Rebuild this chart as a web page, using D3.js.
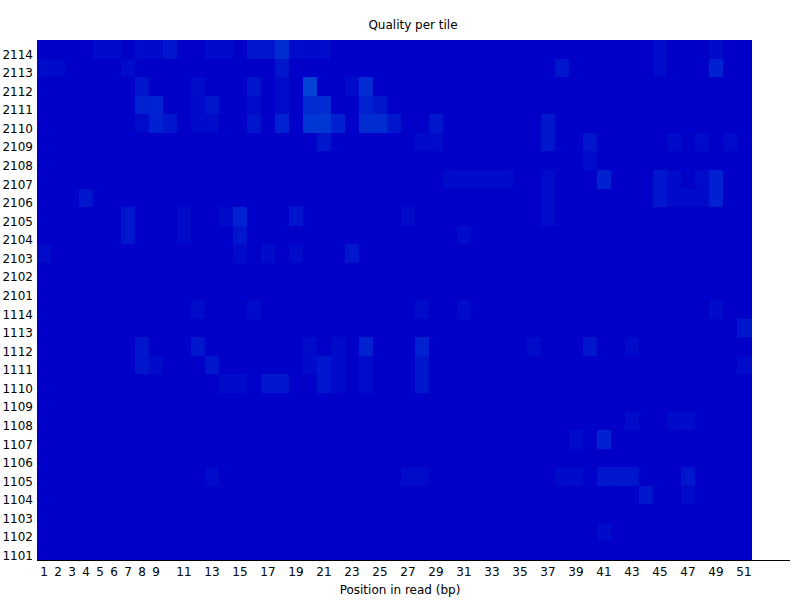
<!DOCTYPE html>
<html>
<head>
<meta charset="utf-8">
<script src="https://cdn.jsdelivr.net/npm/d3@7"></script>
<style>
  body { margin: 0; background: #fff; }
  svg { display: block; font-family: "DejaVu Sans", sans-serif; }
</style>
</head>
<body>
<svg id="chart" width="800" height="600"></svg>
<script>
// tiles, top to bottom
const tiles = ["2114","2113","2112","2111","2110","2109","2108","2107","2106","2105","2104","2103","2102","2101",
               "1114","1113","1112","1111","1110","1109","1108","1107","1106","1105","1104","1103","1102","1101"];
const positions = d3.range(1, 52);
const tickLabels = [1,2,3,4,5,6,7,8,9,11,13,15,17,19,21,23,25,27,29,31,33,35,37,39,41,43,45,47,49,51];

// cells that differ from the mean: [tile, position, level]
const deviations = [
  ["2114",5,1],["2114",6,1],["2114",8,1],["2114",9,1],["2114",10,2],["2114",13,1],["2114",14,1],["2114",16,2],["2114",17,2],["2114",18,4],["2114",19,1],["2114",20,1],["2114",21,1],["2114",45,1],["2114",49,1],
  ["2113",1,1],["2113",2,1],["2113",7,1],["2113",18,2],["2113",38,2],["2113",45,1],["2113",49,3],
  ["2112",8,2],["2112",12,1],["2112",16,2],["2112",18,1],["2112",20,6],["2112",23,1],["2112",24,4],
  ["2111",8,3],["2111",9,3],["2111",12,1],["2111",13,2],["2111",16,1],["2111",18,1],["2111",20,4],["2111",21,4],["2111",24,3],["2111",25,2],
  ["2110",8,1],["2110",9,3],["2110",10,2],["2110",12,1],["2110",13,1],["2110",16,2],["2110",18,3],["2110",20,5],["2110",21,5],["2110",22,3],["2110",24,4],["2110",25,4],["2110",26,2],["2110",29,2],["2110",37,2],
  ["2109",21,2],["2109",28,1],["2109",29,1],["2109",37,2],["2109",40,2],["2109",46,1],["2109",48,1],["2109",50,1],
  ["2108",40,1],
  ["2107",30,1],["2107",31,1],["2107",32,1],["2107",33,1],["2107",34,1],["2107",37,1],["2107",41,3],["2107",45,2],["2107",46,1],["2107",48,1],["2107",49,3],
  ["2106",4,2],["2106",37,1],["2106",45,2],["2106",46,1],["2106",47,1],["2106",48,1],["2106",49,3],
  ["2105",7,2],["2105",11,1],["2105",14,1],["2105",15,3],["2105",19,2],["2105",27,1],["2105",37,1],
  ["2104",7,2],["2104",11,1],["2104",15,2],["2104",31,1],
  ["2103",1,1],["2103",15,1],["2103",17,1],["2103",19,1],["2103",23,2],
  ["1114",12,1],["1114",16,1],["1114",28,1],["1114",31,1],["1114",49,1],
  ["1113",51,2],
  ["1112",8,2],["1112",12,2],["1112",20,1],["1112",22,1],["1112",24,3],["1112",28,3],["1112",36,1],["1112",40,2],["1112",43,1],
  ["1111",8,2],["1111",9,1],["1111",13,2],["1111",20,1],["1111",21,2],["1111",22,1],["1111",24,1],["1111",28,2],["1111",51,1],
  ["1110",14,1],["1110",15,1],["1110",17,2],["1110",18,2],["1110",21,2],["1110",22,1],["1110",24,1],["1110",28,2],
  ["1108",43,1],["1108",46,1],["1108",47,1],
  ["1107",39,1],["1107",41,3],
  ["1105",13,1],["1105",27,1],["1105",28,1],["1105",38,1],["1105",39,1],["1105",41,2],["1105",42,2],["1105",43,2],["1105",47,2],
  ["1104",44,2],["1104",47,1],
  ["1102",41,1]
];

const svg = d3.select("#chart");
const plotLeft = 37, plotRight = 751, plotTop = 40, plotBottom = 560;

const x = d3.scaleBand().domain(positions).range([plotLeft, plotRight]);
const y = d3.scaleBand().domain(tiles).range([plotTop, plotBottom]);
const color = d3.scaleLinear().domain([0, 6]).range(["#0000c8", "#0042d6"]);

const lookup = new Map(deviations.map(d => [d[0] + ":" + d[1], d[2]]));
const cells = tiles.flatMap(t => positions.map(p => ({ tile: t, pos: p, level: lookup.get(t + ":" + p) || 0 })));

svg.append("g")
  .attr("shape-rendering", "crispEdges")
  .selectAll("rect")
  .data(cells)
  .join("rect")
    .attr("x", d => x(d.pos))
    .attr("y", d => y(d.tile))
    .attr("width", x.bandwidth() + 0.5)
    .attr("height", y.bandwidth() + 0.5)
    .attr("fill", d => color(d.level));

// y labels
svg.append("g")
  .selectAll("text")
  .data(tiles)
  .join("text")
    .attr("x", 33)
    .attr("y", d => y(d) + y.bandwidth())
    .attr("text-anchor", "end")
    .attr("font-size", 12)
    .text(d => d);

// x axis line
svg.append("line")
  .attr("x1", plotLeft).attr("x2", 790)
  .attr("y1", plotBottom + 0.5).attr("y2", plotBottom + 0.5)
  .attr("stroke", "#000");

svg.append("g")
  .selectAll("text")
  .data(tickLabels)
  .join("text")
    .attr("x", d => x(d) + x.bandwidth() / 2)
    .attr("y", 576)
    .attr("text-anchor", "middle")
    .attr("font-size", 12)
    .text(d => d);

svg.append("text")
  .attr("x", 400).attr("y", 594)
  .attr("text-anchor", "middle")
  .attr("font-size", 12)
  .text("Position in read (bp)");

svg.append("text")
  .attr("x", 413).attr("y", 29)
  .attr("text-anchor", "middle")
  .attr("font-size", 12)
  .text("Quality per tile");
</script>
</body>
</html>
